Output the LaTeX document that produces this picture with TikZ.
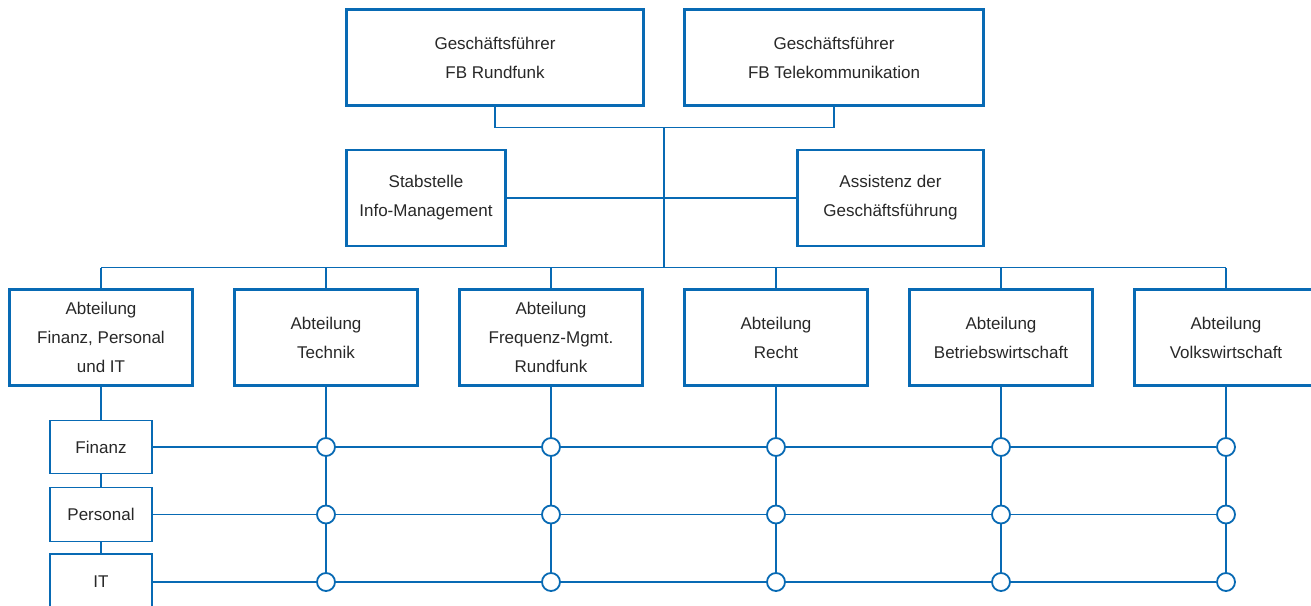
\documentclass[tikz,border=0pt]{standalone}
\usepackage{fontspec}
\setmainfont{Liberation Sans}
\definecolor{obblue}{RGB}{8,106,180}
\definecolor{txt}{RGB}{40,40,40}
\begin{document}
\begin{tikzpicture}[x=1pt,y=-1pt,
  box/.style={draw=obblue, line width=2.7pt, fill=white, text=txt, align=center, inner sep=0pt, minimum height=96pt},
  sub/.style={draw=obblue, line width=1.5pt, fill=white, text=txt, align=center, inner sep=0pt, minimum width=102pt},
  conn/.style={draw=obblue, line width=1.5pt},
  dot/.style={circle, draw=obblue, line width=1.8pt, fill=white, minimum size=18pt, inner sep=0pt},
  font=\fontsize{17}{29}\selectfont]
\clip (0,0) rectangle (1311,605);
\useasboundingbox (0,0) rectangle (1311,605);

% top
\node[box, minimum width=297pt] (g1) at (495,57.5) {Geschäftsführer\\FB Rundfunk};
\node[box, minimum width=299pt] (g2) at (834,57.5) {Geschäftsführer\\FB Telekommunikation};
\node[box, minimum width=159pt] (stab) at (426,198) {Stabstelle\\Info-Management};
\node[box, minimum width=186pt] (assist) at (890.5,198) {Assistenz der\\Geschäftsführung};

% departments
\node[box, minimum width=183pt] (d1) at (101,337.5) {Abteilung\\Finanz, Personal\\und IT};
\node[box, minimum width=183pt] (d2) at (326,337.5) {Abteilung\\Technik};
\node[box, minimum width=183pt] (d3) at (551,337.5) {Abteilung\\Frequenz-Mgmt.\\Rundfunk};
\node[box, minimum width=183pt] (d4) at (776,337.5) {Abteilung\\Recht};
\node[box, minimum width=183pt] (d5) at (1001,337.5) {Abteilung\\Betriebswirtschaft};
\node[box, minimum width=183pt] (d6) at (1226,337.5) {Abteilung\\Volkswirtschaft};

% sub units
\node[sub, minimum height=53pt] (s1) at (101,447) {Finanz};
\node[sub, minimum height=54pt] (s2) at (101,514.5) {Personal};
\node[sub, minimum height=56pt] (s3) at (101,582) {IT};

% circles
\foreach \k in {2,...,6}
  \foreach \r/\yy in {1/447,2/514.5,3/582}
    \node[dot] (c\k\r) at ({101+225*(\k-1)},\yy) {};

% connectors top
\coordinate (jt) at (664,127.5);
\coordinate (jb) at (664,267.5);
\draw[conn] (g1.south) |- (jt) -| (g2.south);
\draw[conn] (jt) -- (jb);
\draw[conn] (stab.east) -- (assist.west);

% bus
\foreach \k in {1,...,6}
  \coordinate (b\k) at ({101+225*(\k-1)},267.5);
\draw[conn] (b1) -- (b6);
\foreach \k in {1,...,6}
  \draw[conn] (b\k) -- (d\k.north);

% sub chain
\draw[conn] (d1.south) -- (s1.north);
\draw[conn] (s1.south) -- (s2.north);
\draw[conn] (s2.south) -- (s3.north);

% matrix lines
\foreach \r in {1,2,3} {
  \draw[conn] (s\r.east) -- (c2\r.west);
  \foreach \k/\n in {2/3,3/4,4/5,5/6}
    \draw[conn] (c\k\r.east) -- (c\n\r.west);
}
\foreach \k in {2,...,6} {
  \draw[conn] (d\k.south) -- (c\k1.north);
  \draw[conn] (c\k1.south) -- (c\k2.north);
  \draw[conn] (c\k2.south) -- (c\k3.north);
}
\end{tikzpicture}
\end{document}
